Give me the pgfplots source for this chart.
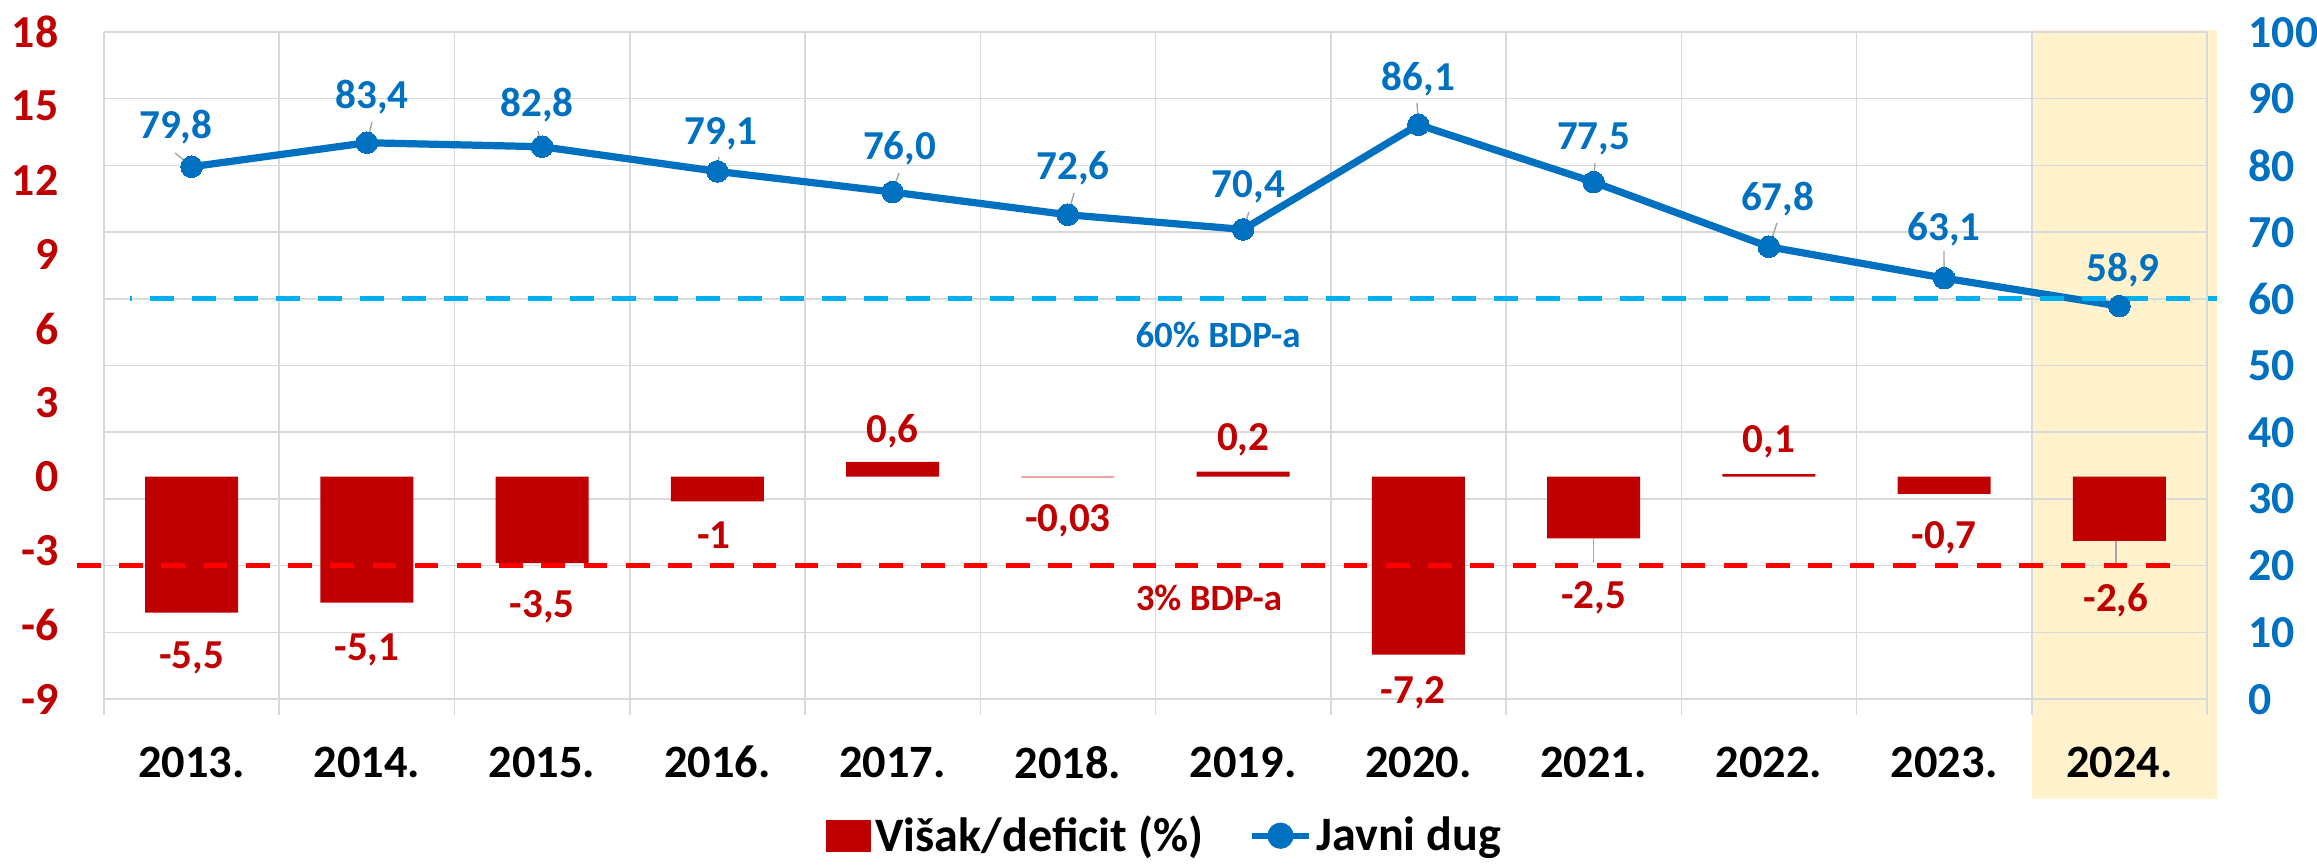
\documentclass[border=0pt]{standalone}
\usepackage{pgfplots}
\pgfplotsset{compat=1.18}
\usepackage{pgfplotstable}
\usepackage{fontspec}
\setmainfont{Carlito}
\definecolor{barred}{HTML}{C00000}
\definecolor{debtblue}{HTML}{0070C0}
\definecolor{refblue}{HTML}{00B0F0}
\definecolor{refred}{HTML}{FF0000}
\definecolor{gridgray}{HTML}{D9D9D9}
\definecolor{bandcol}{HTML}{FFF2CC}
\definecolor{leadcol}{HTML}{A6A6A6}

\pgfplotstableread{
x bal debt
0 -5.5 79.8
1 -5.1 83.4
2 -3.5 82.8
3 -1.0 79.1
4 0.6 76.0
5 -0.03 72.6
6 0.2 70.4
7 -7.2 86.1
8 -2.5 77.5
9 0.1 67.8
10 -0.7 63.1
11 -2.6 58.9
}\datatable

\newcommand{\tickfont}{\fontsize{16.5pt}{19pt}\selectfont\bfseries}
\newcommand{\xfont}{\fontsize{16.7pt}{19pt}\selectfont\bfseries}
\newcommand{\dlabfont}{\fontsize{14.8pt}{17pt}\selectfont\bfseries}
\newcommand{\bdpfont}{\fontsize{13.3pt}{15pt}\selectfont\bfseries}
\newcommand{\legfont}{\fontsize{17.3pt}{20pt}\selectfont\bfseries}

\pgfplotsset{
  common/.style={at={(0pt,0pt)}, anchor=south west, scale only axis,
    width=757.08pt, height=240.12pt, xmin=-0.5, xmax=11.5, clip=false},
}
\tikzset{
  rlab/.style={font=\dlabfont, text=barred, inner sep=0pt, text depth=0pt, anchor=center},
  blab/.style={font=\dlabfont, text=debtblue, inner sep=0pt, text depth=0pt, anchor=center},
  leader/.style={draw=leadcol, line width=0.5pt},
}

\begin{document}
\begin{tikzpicture}
\useasboundingbox (-37.44pt,-59.76pt) rectangle (796.68pt,251.64pt);

% highlight band for 2024
\begin{axis}[common, ymin=-9, ymax=18, hide axis]
\fill[bandcol] (axis cs:10.5,-13.05) rectangle (axis cs:11.557,18.08);
\end{axis}

% grid
\begin{axis}[common, ymin=0, ymax=100,
  ytick={0,10,...,100}, yticklabels={,,},
  xtick={-0.5,0.5,1.5,2.5,3.5,4.5,5.5,6.5,7.5,8.5,9.5,10.5,11.5}, xticklabels={,,},
  xmajorgrids, ymajorgrids, grid style={draw=gridgray, line width=0.55pt},
  axis line style={draw=none},
  xtick pos=bottom, ytick pos=left, tick align=outside, major tick length=5.8pt,
  xtick style={draw=gridgray, line width=0.55pt}, ytick style={draw=none}]
\end{axis}

% bars (left axis)
\begin{axis}[common, ymin=-9, ymax=18,
  ytick={-9,-6,-3,0,3,6,9,12,15,18},
  yticklabels={-9,-6,-3,0,3,6,9,12,15,18},
  xtick={0,1,2,3,4,5,6,7,8,9,10,11},
  xticklabels={2013.,2014.,2015.,2016.,2017.,2018.,2019.,2020.,2021.,2022.,2023.,2024.},
  axis line style={draw=none}, major tick length=0pt, tick style={draw=none},
  xtick pos=bottom, ytick pos=left,
  yticklabel style={font=\tickfont, text=barred, anchor=east, inner sep=0pt, text depth=0pt, xshift=-16.2pt},
  xticklabel style={font=\xfont, text=black, anchor=center, inner sep=0pt, text depth=0pt, yshift=-22.68pt},
]
\addplot[ybar, bar width=0.53, fill=barred, draw=none] table[x=x, y=bal]{\datatable};
\draw[refred, line width=1.6pt, dash pattern=on 8.5pt off 6.7pt] (axis cs:-0.654,-3.6) -- (axis cs:11.386,-3.6);
\draw[leader] (axis cs:8,-2.5) -- (axis cs:8,-3.5);
\draw[leader] (axis cs:10.98,-2.6) -- (axis cs:10.98,-3.5);
\node[rlab] at (axis cs:0,-7.23) {-5,5};
\node[rlab] at (axis cs:1,-6.89) {-5,1};
\node[rlab] at (axis cs:2,-5.15) {-3,5};
\node[rlab] at (axis cs:2.98,-2.36) {-1};
\node[rlab] at (axis cs:4,1.97) {0,6};
\node[rlab] at (axis cs:5,-1.67) {-0,03};
\node[rlab] at (axis cs:6,1.61) {0,2};
\node[rlab] at (axis cs:6.97,-8.64) {-7,2};
\node[rlab] at (axis cs:8,-4.79) {-2,5};
\node[rlab] at (axis cs:9,1.53) {0,1};
\node[rlab] at (axis cs:10,-2.36) {-0,7};
\node[rlab] at (axis cs:10.98,-4.87) {-2,6};
\node[font=\bdpfont, text=barred, inner sep=0pt, text depth=0pt] at (axis cs:5.805,-4.91) {3\% BDP-a};
\end{axis}

% debt line (right axis)
\begin{axis}[common, ymin=0, ymax=100,
  ytick={0,10,20,30,40,50,60,70,80,90,100},
  yticklabels={0,10,20,30,40,50,60,70,80,90,100},
  xtick=\empty,
  axis line style={draw=none}, major tick length=0pt, tick style={draw=none},
  ytick pos=right, yticklabel pos=right,
  yticklabel style={font=\tickfont, text=debtblue, anchor=west, inner sep=0pt, text depth=0pt, xshift=14.76pt},
  legend columns=2,
  legend style={at={(0.5047,-0.205)}, anchor=center, draw=none, fill=none,
    font=\legfont, inner sep=0pt, nodes={inner sep=1.5pt},
    /tikz/every even column/.append style={column sep=15pt}},
]
\addlegendimage{legend image code/.code={\fill[barred] (0pt,-5.6pt) rectangle (16pt,5.6pt);}}
\addlegendentry{Višak/deficit (\%)}
\addplot[debtblue, line width=2.6pt, mark=*, mark size=3.9pt,
  mark options={solid, fill=debtblue, draw=debtblue, line width=0pt},
  legend image code/.code={\draw[debtblue, line width=2.3pt] (0pt,0pt) -- (20.5pt,0pt); \fill[debtblue] (10.25pt,0pt) circle (3.4pt);}]
  table[x=x, y=debt]{\datatable};
\addlegendentry{Javni dug}
\draw[refblue, line width=1.8pt, dash pattern=on 8.64pt off 6.48pt, dash phase=7.9pt] (axis cs:-0.35,60) -- (axis cs:11.557,60);
\draw[leader] (axis cs:0,79.8) -- (axis cs:-0.095,81.86);
\draw[leader] (axis cs:1,83.4) -- (axis cs:1.029,86.5);
\draw[leader] (axis cs:2,82.8) -- (axis cs:1.976,85.16);
\draw[leader] (axis cs:3,79.1) -- (axis cs:3.009,81.26);
\draw[leader] (axis cs:4,76.0) -- (axis cs:4.036,78.86);
\draw[leader] (axis cs:5,72.6) -- (axis cs:5.035,75.86);
\draw[leader] (axis cs:6,70.4) -- (axis cs:6.033,73.0);
\draw[leader] (axis cs:7,86.1) -- (axis cs:6.992,89.36);
\draw[leader] (axis cs:8,77.5) -- (axis cs:8.008,80.36);
\draw[leader] (axis cs:9,67.8) -- (axis cs:9.046,71.36);
\draw[leader] (axis cs:10,63.1) -- (axis cs:9.999,67.17);
\node[blab] at (axis cs:-0.09,86.1) {79,8};
\node[blab] at (axis cs:1.03,90.6) {83,4};
\node[blab] at (axis cs:1.97,89.4) {82,8};
\node[blab] at (axis cs:3.02,85.1) {79,1};
\node[blab] at (axis cs:4.04,83.05) {76,0};
\node[blab] at (axis cs:5.03,79.95) {72,6};
\node[blab] at (axis cs:6.03,77.15) {70,4};
\node[blab] at (axis cs:7.0,93.3) {86,1};
\node[blab] at (axis cs:8.0,84.4) {77,5};
\node[blab] at (axis cs:9.05,75.3) {67,8};
\node[blab] at (axis cs:10.0,70.9) {63,1};
\node[blab] at (axis cs:11.02,64.75) {58,9};
\node[font=\bdpfont, text=debtblue, inner sep=0pt, text depth=0pt] at (axis cs:5.857,54.6) {60\% BDP-a};
\end{axis}
\end{tikzpicture}
\end{document}
